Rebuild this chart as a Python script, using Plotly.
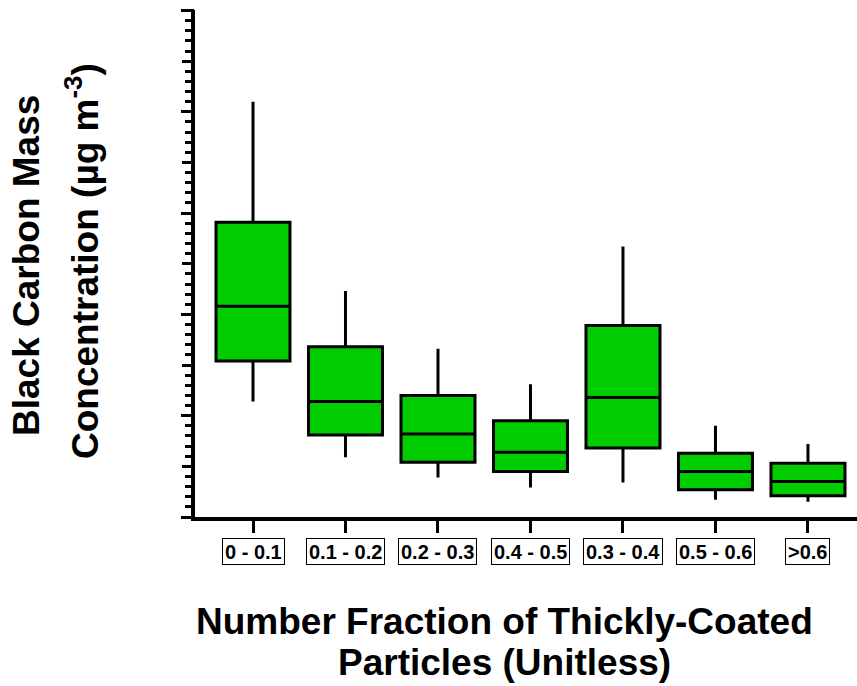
import plotly.graph_objects as go

categories = ["0 - 0.1", "0.1 - 0.2", "0.2 - 0.3", "0.4 - 0.5", "0.3 - 0.4", "0.5 - 0.6", ">0.6"]
upper_whisker = [4.10, 2.23, 1.66, 1.31, 2.67, 0.90, 0.72]
q3_values = [2.91, 1.68, 1.20, 0.95, 1.89, 0.63, 0.53]
median_values = [2.08, 1.14, 0.82, 0.64, 1.18, 0.45, 0.35]
q1_values = [1.54, 0.81, 0.54, 0.45, 0.68, 0.27, 0.21]
lower_whisker = [1.14, 0.59, 0.39, 0.29, 0.34, 0.17, 0.15]

FONT = "Liberation Sans, Arial, sans-serif"
L, T, B = 195, 10, 169
W, H = 857, 686
PLOT_BOTTOM = H - B

fig = go.Figure()
fig.add_trace(go.Box(
    x=categories,
    q1=q1_values, median=median_values, q3=q3_values,
    lowerfence=lower_whisker, upperfence=upper_whisker,
    fillcolor="#00CC00",
    line=dict(color="black", width=3),
    width=0.8,
    whiskerwidth=0,
    boxpoints=False,
    showlegend=False,
))

# invisible trace on second y axis for major ticks
fig.add_trace(go.Scatter(x=[categories[0]], y=[None], yaxis="y2", showlegend=False, hoverinfo="skip"))

fig.update_layout(
    width=W, height=H,
    margin=dict(l=L, r=0, t=T, b=B),
    plot_bgcolor="white", paper_bgcolor="white",
    xaxis=dict(
        type="category", categoryorder="array", categoryarray=categories,
        range=[-0.627, 6.53],
        showline=True, linewidth=4, linecolor="black",
        ticks="outside", ticklen=12, tickwidth=3, tickcolor="black",
        showticklabels=False, showgrid=False, zeroline=False,
    ),
    yaxis=dict(
        range=[0, 5.005],
        showline=True, linewidth=4, linecolor="black",
        ticks="outside", dtick=0.5, tick0=0, ticklen=9, tickwidth=3, tickcolor="black",
        minor=dict(dtick=0.1, ticklen=6, tickwidth=3, tickcolor="black", ticks="outside", showgrid=False),
        showticklabels=False, showgrid=False, zeroline=False,
    ),
    yaxis2=dict(
        overlaying="y", side="left", range=[0, 5.005],
        tickvals=[0, 1, 2, 3, 4, 5], ticks="outside", ticklen=13, tickwidth=3, tickcolor="black",
        showticklabels=False, showgrid=False, zeroline=False, showline=False,
    ),
)

# boxed category labels
for c in categories:
    fig.add_annotation(
        x=c, xref="x", y=0, yref="paper", yshift=-(551.5 - PLOT_BOTTOM),
        text="<b>%s</b>" % c, showarrow=False,
        font=dict(family=FONT, size=20, color="black"),
        bordercolor="black", borderwidth=1, borderpad=2, height=21,
        bgcolor="white", xanchor="center", yanchor="middle",
    )

def px_annot(text, cx, cy, size, angle=0):
    fig.add_annotation(
        x=0, xref="paper", y=0, yref="paper",
        xshift=cx - L, yshift=-(cy - PLOT_BOTTOM),
        text=text, showarrow=False, textangle=angle,
        font=dict(family=FONT, size=size, color="black"),
        xanchor="center", yanchor="middle",
    )

px_annot("<b>Number Fraction of Thickly-Coated</b>", 504, 621, 37)
px_annot("<b>Particles (Unitless)</b>", 504, 662, 37)
px_annot("<b>Black Carbon Mass</b>", 26, 266, 37, -90)
px_annot("<b>Concentration (µg m<sup>-3</sup>)</b>", 82, 261, 37, -90)

fig.write_html("out.html")
